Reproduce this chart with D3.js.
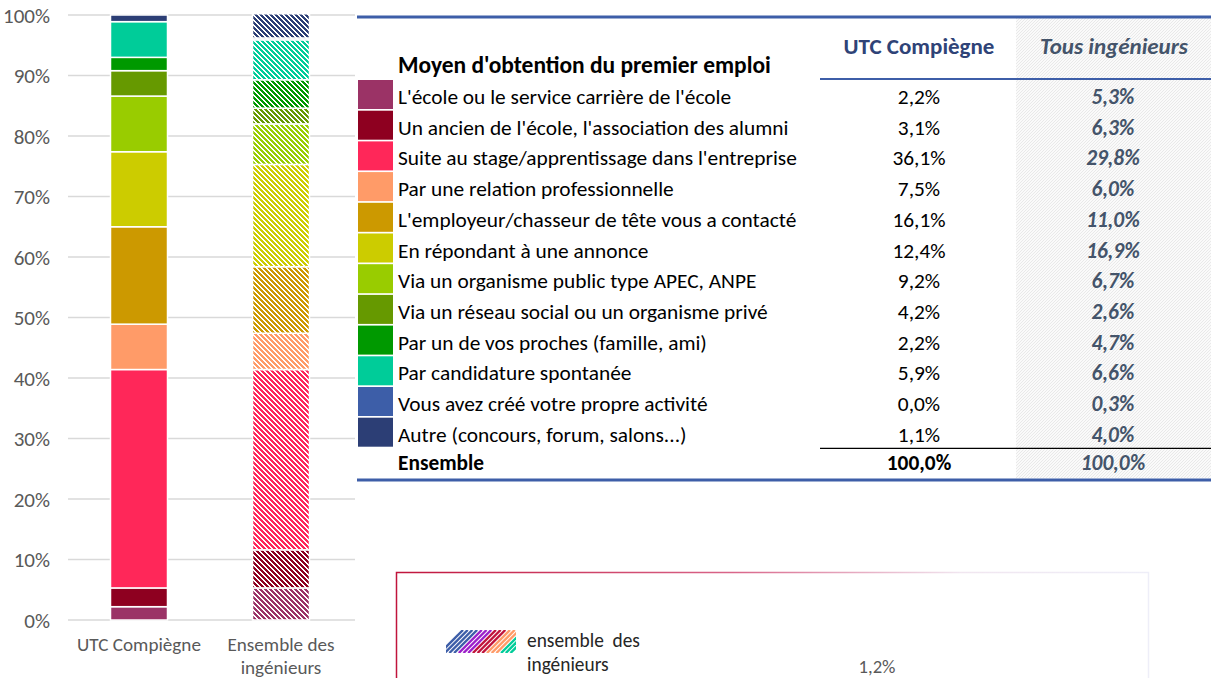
<!DOCTYPE html>
<html><head><meta charset="utf-8">
<script src="https://cdn.jsdelivr.net/npm/d3@7/dist/d3.min.js"></script>
<style>
html,body{margin:0;padding:0;background:#fff;}
svg{display:block;font-family:Carlito,"Liberation Sans",Arial,sans-serif;}
</style></head>
<body><svg id="c" width="1211" height="678"></svg>
<script>
// ---- data ----
const categories = ["UTC Compiègne", "Ensemble des ingénieurs"];
const methods = [
  "L'école ou le service carrière de l'école",
  "Un ancien de l'école, l'association des alumni",
  "Suite au stage/apprentissage dans l'entreprise",
  "Par une relation professionnelle",
  "L'employeur/chasseur de tête vous a contacté",
  "En répondant à une annonce",
  "Via un organisme public type APEC, ANPE",
  "Via un réseau social ou un organisme privé",
  "Par un de vos proches (famille, ami)",
  "Par candidature spontanée",
  "Vous avez créé votre propre activité",
  "Autre (concours, forum, salons...)"
];
const utcValues  = [2.2, 3.1, 36.1, 7.5, 16.1, 12.4, 9.2, 4.2, 2.2, 5.9, 0.0, 1.1];
const allValues  = [5.3, 6.3, 29.8, 6.0, 11.0, 16.9, 6.7, 2.6, 4.7, 6.6, 0.3, 4.0];
const totalUtc = "100,0%", totalAll = "100,0%";
const colors = ["#9b3366","#8e0020","#ff2759","#ff9b68","#cc9900","#cccc00",
                "#99cc00","#669900","#009900","#00cc99","#3d5ea8","#2c3e75"];
const yTicks = [0,10,20,30,40,50,60,70,80,90,100];
const legendLabel = ["ensemble  des","ingénieurs"];
const legendStripeColors = ["#3d5ea8","#9b1fc9","#c0143c","#ff9b68","#00cc99"];
const boxLabel = "1,2%";

const fmt = v => d3.format(".1f")(v).replace(".", ",") + "%";
const svg = d3.select("#c");
const defs = svg.append("defs");

// font-size fitting: size so that a sample string reaches the width seen in the reference
function fit(sample, target, weight, style){
  const t = svg.append("text").attr("font-size",100).attr("font-weight",weight||"normal")
    .attr("font-style",style||"normal").style("white-space","pre").text(sample);
  const w = t.node().getComputedTextLength(); t.remove();
  return 100*target/w;
}
const fsRow   = fit("Suite au stage/apprentissage dans l'entreprise", 399);
const fsTitle = fit("Moyen d'obtention du premier emploi", 373, "bold");
const fsHead  = fit("UTC Compiègne", 151, "bold");
const fsHead2 = fit("Tous ingénieurs", 148, "bold", "italic");
const fsCat   = fit("UTC Compiègne", 124);
const fsAxis  = fit("100%", 47);
const fsLeg   = fit("ensemble  des", 113);
const fsBox   = fit("1,2%", 37);

// hatch patterns (pixel diagonal, downward): 3 coloured pixels out of 5 per row
const P = 5;
colors.forEach((c,i)=>{
  const p = defs.append("pattern").attr("id","h"+i).attr("patternUnits","userSpaceOnUse")
    .attr("width",P).attr("height",P);
  p.append("rect").attr("width",P).attr("height",P).attr("fill","#fff");
  d3.range(P).forEach(r=>{
    [0,1,2].forEach(k=>{
      p.append("rect").attr("x",(r+k)%P).attr("y",r).attr("width",1).attr("height",1).attr("fill",c);
    });
  });
});
const tp = defs.append("pattern").attr("id","tbl").attr("patternUnits","userSpaceOnUse")
  .attr("width",3).attr("height",3);
tp.append("rect").attr("width",3).attr("height",3).attr("fill","#fafafa");
tp.append("path").attr("d","M-1,4L4,-1M-1,1L1,-1M2,4L4,2").attr("stroke","#e4e4e4").attr("stroke-width",0.8);

// ---- bar chart ----
const y = d3.scaleLinear().domain([0,100]).range([620,15]);
const x = d3.scalePoint().domain(categories).range([68,352]).padding(0.5);
const barW = 57;

svg.append("g").selectAll("line").data(yTicks).join("line")
  .attr("x1",68).attr("x2",355).attr("y1",d=>y(d)).attr("y2",d=>y(d))
  .attr("stroke","#d9d9d9").attr("stroke-width",1.5);

const yAxis = svg.append("g").attr("transform","translate(58,0)")
  .call(d3.axisLeft(y).tickValues(yTicks).tickSize(0).tickFormat(d=>d+"%"));
yAxis.attr("font-family",null).attr("font-size",null);
yAxis.select(".domain").remove();
yAxis.selectAll("text").attr("font-size",fsAxis).attr("fill","#595959").attr("x",-8).attr("dy","0.35em");

function stack(vals){
  let acc=0; return vals.map((v,i)=>{const s={i,v,y0:acc,y1:acc+v}; acc+=v; return s;});
}
const series = [stack(utcValues), stack(allValues)];
series.forEach((st,k)=>{
  svg.append("g").selectAll("rect").data(st.filter(d=>d.v>0)).join("rect")
    .attr("x",x(categories[k])-barW/2).attr("width",barW)
    .attr("y",d=>y(d.y1)).attr("height",d=>y(d.y0)-y(d.y1))
    .attr("fill",d=> k===0 ? colors[d.i] : `url(#h${d.i})`)
    .attr("stroke","#fff").attr("stroke-width",1.5);
});

// category labels
const catLines = [["UTC Compiègne"],["Ensemble des","ingénieurs"]];
categories.forEach((c,k)=>{
  const t = svg.append("text").attr("x",x(c)).attr("y",651).attr("text-anchor","middle")
    .attr("font-size",fsCat).attr("fill","#595959");
  catLines[k].forEach((l,j)=>t.append("tspan").attr("x",x(c)).attr("dy",j?23:0).text(l));
});

// ---- table ----
const rowTop = d3.scaleLinear().domain([0,1]).range([80,110.7]);
const colUtc = 919, colAll = 1113;

svg.append("rect").attr("x",1016).attr("y",18).attr("width",195).attr("height",460).attr("fill","url(#tbl)");
svg.append("line").attr("x1",357).attr("x2",1211).attr("y1",17).attr("y2",17).attr("stroke","#3d5ea8").attr("stroke-width",3);
svg.append("line").attr("x1",820).attr("x2",1211).attr("y1",79).attr("y2",79).attr("stroke","#3d5ea8").attr("stroke-width",2);

svg.append("text").attr("x",398).attr("y",73).attr("font-size",fsTitle).attr("font-weight","bold").attr("fill","#000")
  .text("Moyen d'obtention du premier emploi");
svg.append("text").attr("x",colUtc).attr("y",54).attr("text-anchor","middle").attr("font-size",fsHead)
  .attr("font-weight","bold").attr("fill","#2f4377").text("UTC Compiègne");
svg.append("text").attr("x",colAll+1).attr("y",54).attr("text-anchor","middle").attr("font-size",fsHead2)
  .attr("font-weight","bold").attr("font-style","italic").attr("fill","#44546a").text("Tous ingénieurs");

const rows = svg.append("g").selectAll("g").data(methods).join("g")
  .attr("transform",(d,i)=>`translate(0,${rowTop(i)})`);
rows.append("rect").attr("x",358).attr("y",0).attr("width",35).attr("height",29).attr("fill",(d,i)=>colors[i]);
rows.append("text").attr("x",398).attr("y",24).attr("font-size",fsRow).attr("fill","#000").text(d=>d);
rows.append("text").attr("x",colUtc).attr("y",24).attr("text-anchor","middle").attr("font-size",fsRow)
  .attr("fill","#000").text((d,i)=>fmt(utcValues[i]));
rows.append("text").attr("x",colAll).attr("y",24).attr("text-anchor","middle").attr("font-size",fsRow)
  .attr("font-weight","bold").attr("font-style","italic").attr("fill","#44546a").text((d,i)=>fmt(allValues[i]));

const eTop = rowTop(methods.length);
svg.append("line").attr("x1",820).attr("x2",1211).attr("y1",eTop).attr("y2",eTop).attr("stroke","#000").attr("stroke-width",1.2);
svg.append("text").attr("x",398).attr("y",eTop+22).attr("font-size",fsRow).attr("font-weight","bold").text("Ensemble");
svg.append("text").attr("x",colUtc).attr("y",eTop+22).attr("text-anchor","middle").attr("font-size",fsRow).attr("font-weight","bold").text(totalUtc);
svg.append("text").attr("x",colAll).attr("y",eTop+22).attr("text-anchor","middle").attr("font-size",fsRow)
  .attr("font-weight","bold").attr("font-style","italic").attr("fill","#44546a").text(totalAll);
svg.append("line").attr("x1",357).attr("x2",1211).attr("y1",480).attr("y2",480).attr("stroke","#3d5ea8").attr("stroke-width",3);

// ---- bottom box ----
const g = defs.append("linearGradient").attr("id","bx").attr("x1","0").attr("x2","1").attr("y1","0").attr("y2","0");
g.append("stop").attr("offset","0").attr("stop-color","#c0143c");
g.append("stop").attr("offset","0.45").attr("stop-color","#d9668a");
g.append("stop").attr("offset","0.75").attr("stop-color","#f1e6f0");
g.append("stop").attr("offset","1").attr("stop-color","#eeeef8");
svg.append("rect").attr("x",396.5).attr("y",572.5).attr("width",752).attr("height",140)
  .attr("fill","#fff").attr("stroke","url(#bx)").attr("stroke-width",1.5);

const clip = defs.append("clipPath").attr("id","lgc");
clip.append("rect").attr("x",446).attr("y",630).attr("width",70).attr("height",23);
const sw = svg.append("g").attr("clip-path","url(#lgc)");
sw.selectAll("line").data(d3.range(16)).join("line")
  .attr("x1",d=>440+d*4.7).attr("x2",d=>440+d*4.7+23).attr("y1",653).attr("y2",630)
  .attr("stroke",d=>legendStripeColors[Math.min(4,Math.floor(d/3.2))]).attr("stroke-width",2.4);

const lt = svg.append("text").attr("x",527).attr("y",647).attr("font-size",fsLeg).attr("fill","#262626")
  .style("white-space","pre");
legendLabel.forEach((l,j)=>lt.append("tspan").attr("x",527).attr("dy",j?24:0).text(l));
svg.append("text").attr("x",877).attr("y",673).attr("text-anchor","middle").attr("font-size",fsBox).attr("fill","#595959").text(boxLabel);
</script></body></html>
